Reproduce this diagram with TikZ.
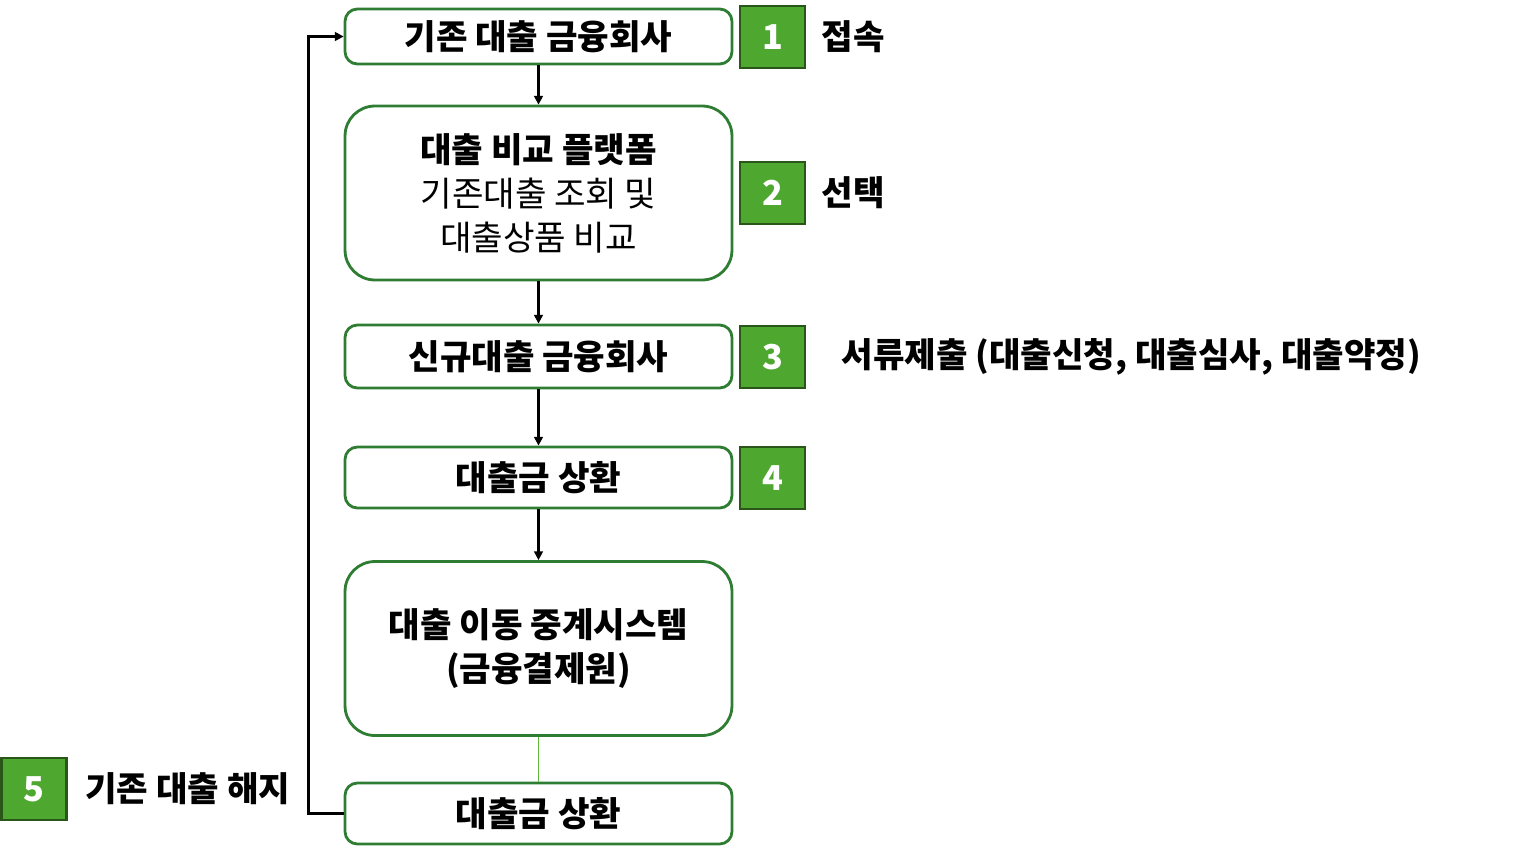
\documentclass[tikz,border=0pt]{standalone}
\usepackage{fontspec}
\setmainfont{Noto Sans CJK KR}
\usetikzlibrary{positioning,arrows.meta}
\definecolor{boxgreen}{HTML}{2E7D32}
\definecolor{sqfill}{HTML}{4EA72E}
\definecolor{sqdraw}{HTML}{2B561A}
\definecolor{linkgreen}{HTML}{5DB83A}

\begin{document}
\begin{tikzpicture}[x=0.02cm,y=-0.02cm,
    stepbox/.style={draw=boxgreen, line width=1.6pt, rounded corners=7pt,
      minimum width=7.74cm, minimum height=1.22cm, inner sep=0pt, align=center,
      font=\fontsize{19.5}{25}\selectfont\bfseries},
    bigbox/.style={stepbox, rounded corners=17pt, minimum height=3.48cm},
    numsq/.style={draw=sqdraw, fill=sqfill, line width=1.6pt, minimum width=1.3cm,
      minimum height=1.24cm, inner sep=0pt, text=white,
      font=\fontsize{19.5}{20}\selectfont\bfseries},
    note/.style={inner sep=0pt, font=\fontsize{19.5}{20}\selectfont\bfseries},
    flow/.style={-{Triangle[length=5pt,width=5pt]}, line width=1.3pt}]
    \useasboundingbox (0,0) rectangle (1524,859);
    % steps
    \node[stepbox, minimum height=1.1cm] (b1) at (538.5,36.5) {기존 대출 금융회사};
    \node[bigbox] (b2) at (538.5,193) {대출 비교 플랫폼\\
      {\mdseries 기존대출 조회 및}\\ {\mdseries 대출상품 비교}};
    \node[stepbox, minimum height=1.26cm] (b3) at (538.5,356.5) {신규대출 금융회사};
    \node[stepbox] (b4) at (538.5,477.5) {대출금 상환};
    \node[bigbox] (b5) at (538.5,648.5) {대출 이동 중계시스템\\(금융결제원)};
    \node[stepbox] (b6) at (538.5,813.5) {대출금 상환};
    % numbers
    \node[numsq] (s1) at (772.5,37) {1};
    \node[numsq] (s2) at (772.5,193) {2};
    \node[numsq] (s3) at (772.5,357) {3};
    \node[numsq] (s4) at (772.5,478) {4};
    \node[numsq] (s5) at (34,789) {5};
    \node[note, right=0.3cm of s1] (n1) {접속};
    \node[note, right=0.3cm of s2] (n2) {선택};
    \node[note, right=0.7cm of s3] (n3) {서류제출 (대출신청, 대출심사, 대출약정)};
    \node[note, right=0.34cm of s5] (n5) {기존 대출 해지};
    % arrows
    \draw[flow] (b1) -- (b2);
    \draw[flow] (b2) -- (b3);
    \draw[flow] (b3) -- (b4);
    \draw[flow] (b4) -- (b5);
    \draw[linkgreen, line width=1pt] (b5) -- (b6);
    \draw[flow] (b6.west) -- ++(-35,0) |- (b1.west);
\end{tikzpicture}
\end{document}
